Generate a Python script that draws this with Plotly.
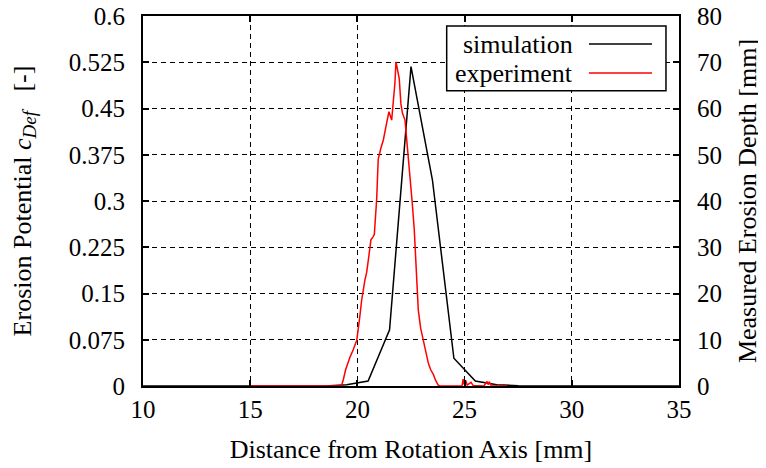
import plotly.graph_objects as go

# ---- data ----
sim_x = [10.0, 10.5, 11.5, 12.5, 13.5, 14.5, 15.5, 16.5, 17.5, 18.5, 19.5, 20.5, 21.5, 22.5,
         23.5, 24.5, 25.5, 26.5, 27.5, 28.5, 29.5, 30.5, 31.5, 32.5, 33.5, 34.5, 35.0]
sim_y = [0, 0, 0, 0, 0, 0, 0, 0, 0, 0, 0.002, 0.008, 0.091, 0.518,
         0.334, 0.045, 0.008, 0.002, 0.0005, 0, 0, 0, 0, 0, 0, 0, 0]

exp_x = [15.0, 19.2, 19.27, 19.34, 19.45, 19.55, 19.66, 19.8, 19.97, 20.1, 20.2, 20.35,
         20.43, 20.51, 20.63, 20.72, 20.79, 20.9, 20.97, 21.1, 21.21, 21.35, 21.47, 21.6,
         21.67, 21.75, 21.8, 21.86, 21.95, 22.03, 22.1, 22.22, 22.3, 22.45, 22.55, 22.65,
         22.72, 22.77, 22.84, 22.95, 23.07, 23.2, 23.31, 23.42, 23.54, 23.65, 23.77, 23.85,
         24.88, 24.93, 24.98, 25.05, 25.12, 25.3, 25.4, 25.9, 26.05, 26.1, 26.15, 26.25, 27.0]
exp_y = [0, 0, 0.3, 1.3, 3.5, 4.9, 6.3, 7.8, 9.9, 14.5, 18.6, 22.9,
         24.5, 27.2, 31.6, 32.2, 32.8, 40.5, 49.0, 51.5, 53.2, 56.5, 59.3, 57.5,
         61.1, 65.5, 70.1, 68.5, 66.5, 61.0, 59.0, 57.5, 53.5, 46.0, 40.0, 34.0,
         27.5, 23.0, 16.4, 12.5, 9.9, 7.0, 4.9, 3.5, 2.5, 1.2, 0.2, 0,
         0, 1.5, 0.3, 1.2, 0.2, 0.8, 0.1, 0, 1.0, 0.3, 0.9, 0, 0]

left_ticks = [0, 0.075, 0.15, 0.225, 0.3, 0.375, 0.45, 0.525, 0.6]
left_ticktext = ["0", "0.075", "0.15", "0.225", "0.3", "0.375", "0.45", "0.525", "0.6"]
x_ticks = [10, 15, 20, 25, 30, 35]
right_ticks = [0, 10, 20, 30, 40, 50, 60, 70, 80]

FONT = "Liberation Serif, DejaVu Serif, Times New Roman, serif"
FS_TICK = 25
FS_TEXT = 26
NB = "\u00a0"

fig = go.Figure()
fig.add_trace(go.Scatter(x=sim_x, y=sim_y, mode="lines", name="simulation",
                         line=dict(color="black", width=1.5), showlegend=False))
fig.add_trace(go.Scatter(x=exp_x, y=exp_y, mode="lines", name="experiment", yaxis="y2",
                         line=dict(color="#ff0000", width=1.5), showlegend=False))

axis_common = dict(showline=True, linecolor="black", linewidth=2, ticks="inside",
                   ticklen=6, tickwidth=1.5, tickcolor="black", zeroline=False,
                   automargin=False, ticklabeloverflow="allow",
                   tickfont=dict(family=FONT, size=FS_TICK, color="black"))

left_title = ("Erosion Potential" + NB + "<i>c</i><sub><span style='font-size:19px'><i>Def</i></span></sub>"
              + NB * 3 + "[-]")

fig.update_layout(
    width=758, height=460,
    margin=dict(l=135, r=87, t=8, b=82),
    paper_bgcolor="white", plot_bgcolor="white",
    font=dict(family=FONT, size=FS_TEXT, color="black"),
    xaxis=dict(range=[10, 35], tickvals=x_ticks, mirror="ticks",
               showgrid=True, gridcolor="black", gridwidth=1.2, griddash="5px,4px",
               ticklabelstandoff=0,
               title=dict(text="Distance from Rotation Axis [mm]", standoff=18,
                          font=dict(family=FONT, size=FS_TEXT)),
               **axis_common),
    yaxis=dict(range=[0, 0.6], tickvals=left_ticks, ticktext=left_ticktext, mirror="ticks",
               showgrid=True, gridcolor="black", gridwidth=1.2, griddash="5px,4px",
               ticklabelstandoff=11,
               title=dict(text=left_title, standoff=32, font=dict(family=FONT, size=FS_TEXT)),
               **axis_common),
    yaxis2=dict(range=[0, 80], tickvals=right_ticks, overlaying="y", side="right",
                showgrid=False, ticklabelstandoff=11,
                title=dict(text="Measured Erosion Depth [mm]", standoff=17,
                           font=dict(family=FONT, size=FS_TEXT)),
                **axis_common),
)

# custom legend (text left, line sample right)
fig.add_shape(type="rect", xref="paper", yref="paper", x0=0.5666, x1=0.9757, y0=0.798, y1=0.973,
              line=dict(color="black", width=1.5), fillcolor="white", layer="above")
legend_items = [("simulation", "black", 0.9243), ("experiment", "#ff0000", 0.8459)]
for label, col, yy in legend_items:
    fig.add_annotation(xref="paper", yref="paper", x=0.806, y=yy, text=label, showarrow=False,
                       xanchor="right", yanchor="middle", font=dict(family=FONT, size=FS_TEXT))
    fig.add_shape(type="line", xref="paper", yref="paper", x0=0.832, x1=0.9496, y0=yy, y1=yy,
                  line=dict(color=col, width=1.5), layer="above")

fig.write_html("out.html")
